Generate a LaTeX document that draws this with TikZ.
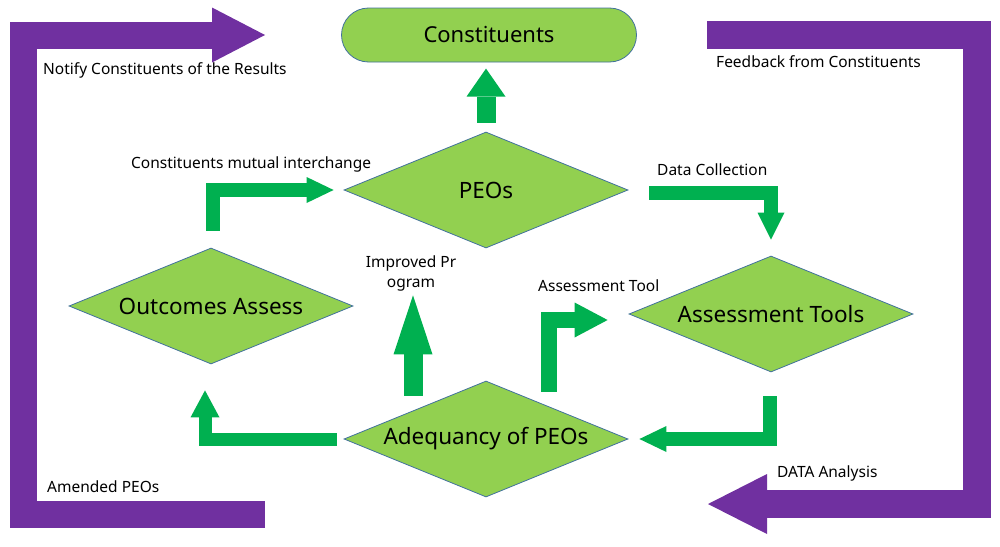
\documentclass[tikz,border=0pt]{standalone}
\usepackage{fontspec}
\setmainfont{Noto Sans}
\usetikzlibrary{shapes.geometric,arrows.meta}

\definecolor{leaf}{HTML}{92D050}
\definecolor{flowgreen}{HTML}{00B050}
\definecolor{loopviolet}{HTML}{7030A0}
\definecolor{rim}{HTML}{41719C}

\tikzset{
  stepbox/.style={draw=rim, line width=0.8pt, fill=leaf, diamond, aspect=2.45,
    minimum width=284pt, minimum height=116pt, inner sep=0pt,
    font=\fontsize{22.5}{26}\selectfont},
  endbox/.style={draw=rim, line width=0.8pt, fill=leaf, rectangle, rounded corners=27pt,
    minimum width=295pt, minimum height=54pt, inner sep=0pt,
    font=\fontsize{22}{26}\selectfont},
  lbl/.style={inner sep=0pt, anchor=west, font=\fontsize{15.5}{20}\selectfont},
  gflow/.style n args={3}{draw=flowgreen, line width=#1,
    -{Triangle[width=#2, length=#3, line width=0pt]}},
  vflow/.style n args={3}{draw=loopviolet, line width=#1,
    -{Triangle[width=#2, length=#3, line width=0pt]}}
}

\begin{document}
\begin{tikzpicture}[x=1pt, y=-1pt]
  \useasboundingbox (0,0) rectangle (1000,546);

  % the five stages
  \node[endbox] (const) at (489,35) {Constituents};
  \node[stepbox] (peos) at (486,190) {PEOs};
  \node[stepbox] (outc) at (211,306) {Outcomes Assess};
  \node[stepbox] (tools) at (771,314) {Assessment Tools};
  \node[stepbox] (adeq) at (486,439) {Adequancy of PEOs};

  % inner cycle
  \draw[gflow={19pt}{39pt}{28pt}] ([yshift=9pt]peos.north) -- ++(0,-54);
  \draw[gflow={14pt}{26pt}{27pt}] ([shift={(2,-17)}]outc.north) |- ([xshift=-10pt]peos.west);
  \draw[gflow={14pt}{27pt}{27pt}] ([shift={(21,3)}]peos.east) -| ([yshift=16pt]tools.north);
  \draw[gflow={14pt}{26pt}{27pt}] ([shift={(-1,24)}]tools.south) |- ([xshift=11pt]adeq.east);
  \draw[gflow={13pt}{29pt}{27pt}] ([xshift=-7pt]adeq.west) -| ([shift={(-6,26)}]outc.south);
  \draw[gflow={16pt}{35pt}{33pt}] ([shift={(63,11)}]adeq.north) |- ([shift={(-21,6)}]tools.west);
  \draw[gflow={19pt}{39pt}{59pt}] ([shift={(-73,15)}]adeq.north) -- ([shift={(-73,47)}]peos.south);

  % outer loops
  \coordinate (lstart) at (265,514);
  \coordinate (ltip) at (265,35);
  \coordinate (rstart) at (707,35);
  \coordinate (rtip) at (708,504);
  \draw[vflow={27pt}{55pt}{53pt}] (lstart) -- ++(-242,0) |- (ltip);
  \draw[vflow={28pt}{60pt}{59pt}] (rstart) -- ++(270,0) |- (rtip);

  % labels
  \node[lbl] (notify) at (43,70) {Notify Constituents of the Results};
  \node[lbl] (feedback) at (716,62) {Feedback from Constituents};
  \node[lbl] (mutual) at (131,164) {Constituents mutual interchange};
  \node[lbl] (collect) at (657,170) {Data Collection};
  \node[lbl] (tool) at (538,286) {Assessment Tool};
  \node[lbl, anchor=center, align=center] (improved) at (411,273) {Improved Pr\\ogram};
  \node[lbl] (amended) at (47,487) {Amended PEOs};
  \node[lbl] (analysis) at (777,473) {DATA Analysis};
\end{tikzpicture}
\end{document}
